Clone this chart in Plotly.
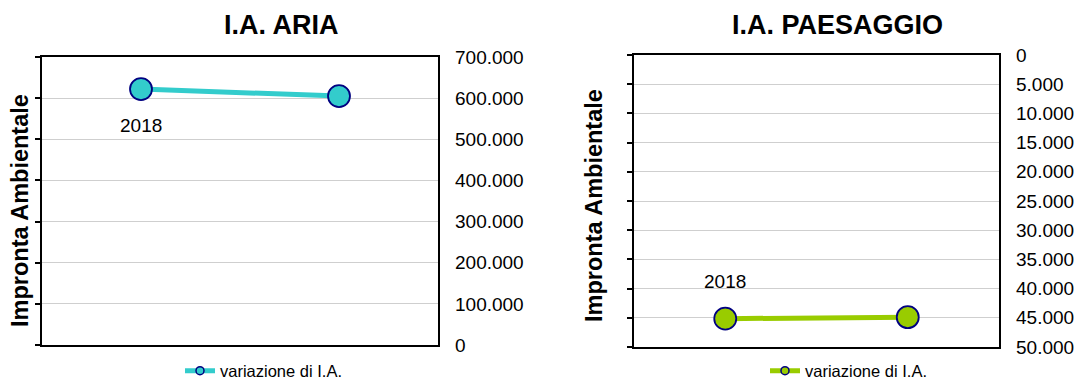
import plotly.graph_objects as go

# Data
categories = ["2018", "2019"]
point_labels = ["2018", ""]
aria_values = [622000, 605000]
paesaggio_values = [45150, 44900]
aria_tickvals = [0, 100000, 200000, 300000, 400000, 500000, 600000, 700000]
paesaggio_tickvals = [0, 5000, 10000, 15000, 20000, 25000, 30000, 35000, 40000, 45000, 50000]
series_name = "variazione di I.A."
y_title = "Impronta Ambientale"

W, H = 1082, 385
FONT = "Liberation Sans, Arial, sans-serif"
TEAL = "#33CCCC"
GREEN = "#99CC00"
NAVY = "#000080"
GRID = "#cfcfcf"


def fx(p):
    return p / W


def fy(p):
    return 1 - p / H


panels = [
    dict(title="I.A. ARIA", values=aria_values, color=TEAL, tickvals=aria_tickvals,
         rng=[0, 700000], box=(42, 438, 57, 345), xa="x", ya="y", ya_lab="y3",
         legend="legend", title_x=281, ytitle=(20, 211), label_shift=-36, legend_x=180),
    dict(title="I.A. PAESAGGIO", values=paesaggio_values, color=GREEN, tickvals=paesaggio_tickvals,
         rng=[50000, 0], box=(634, 999, 55, 347), xa="x2", ya="y2", ya_lab="y4",
         legend="legend2", title_x=837, ytitle=(594, 206), label_shift=37, legend_x=765),
]

fig = go.Figure()
annotations = []
layout = {}

for p in panels:
    x0, x1, y0, y1 = p["box"]
    xname = "xaxis" + p["xa"][1:]
    yname = "yaxis" + p["ya"][1:]
    ylabname = "yaxis" + p["ya_lab"][1:]

    # line with markers
    fig.add_trace(go.Scatter(
        x=categories, y=p["values"], mode="lines+markers",
        line=dict(color=p["color"], width=5),
        marker=dict(size=22, color=p["color"], line=dict(color=NAVY, width=1.8)),
        xaxis=p["xa"], yaxis=p["ya"], showlegend=False, hoverinfo="skip",
    ))
    # legend entry with a small marker (sits on the labelled right-hand axis)
    fig.add_trace(go.Scatter(
        x=[None], y=[None], mode="lines+markers", name=series_name,
        line=dict(color=p["color"], width=5),
        marker=dict(size=8, color=p["color"], line=dict(color=NAVY, width=1.5)),
        xaxis=p["xa"], yaxis=p["ya_lab"], legend=p["legend"],
    ))

    layout[xname] = dict(
        domain=[fx(x0), fx(x1)], anchor=p["ya"], type="category",
        range=[-0.5, len(categories) - 0.5], showticklabels=False, ticks="",
        showgrid=False, zeroline=False, showline=True, linecolor="black",
        linewidth=2, mirror=True,
    )
    layout[yname] = dict(
        domain=[fy(y1), fy(y0)], anchor=p["xa"], range=p["rng"],
        tickvals=p["tickvals"], showticklabels=False, ticks="outside",
        ticklen=5, tickwidth=1.5, tickcolor="black",
        showgrid=True, gridcolor=GRID, gridwidth=1.2, zeroline=False,
        showline=True, linecolor="black", linewidth=2, mirror=True,
    )
    layout[ylabname] = dict(
        overlaying=p["ya"], anchor=p["xa"], side="right", range=p["rng"],
        tickvals=p["tickvals"], tickformat=",d", ticks="", showgrid=False,
        zeroline=False, showline=False, ticklabelstandoff=16,
        tickfont=dict(family=FONT, size=19, color="black"),
    )
    layout[p["legend"]] = dict(
        x=fx(p["legend_x"]), xanchor="left", y=fy(371), yanchor="middle",
        orientation="h", font=dict(family=FONT, size=16.5, color="black"),
        bgcolor="rgba(0,0,0,0)", borderwidth=0,
    )

    # chart title
    annotations.append(dict(
        text="<b>%s</b>" % p["title"], xref="paper", yref="paper",
        x=fx(p["title_x"]), y=fy(25), xanchor="center", yanchor="middle",
        showarrow=False, font=dict(family=FONT, size=27, color="black"),
    ))
    # vertical axis title
    annotations.append(dict(
        text="<b>%s</b>" % y_title, xref="paper", yref="paper",
        x=fx(p["ytitle"][0]), y=fy(p["ytitle"][1]), xanchor="center",
        yanchor="middle", textangle=-90, showarrow=False,
        font=dict(family=FONT, size=23.5, color="black"),
    ))
    # point labels (category axis positions are given by index)
    for i, (val, lab) in enumerate(zip(p["values"], point_labels)):
        if lab:
            annotations.append(dict(
                text=lab, xref=p["xa"], yref=p["ya"], x=i, y=val,
                yshift=p["label_shift"], showarrow=False,
                font=dict(family=FONT, size=19, color="black"),
            ))

fig.update_layout(
    width=W, height=H,
    margin=dict(l=0, r=0, t=0, b=0, autoexpand=False),
    paper_bgcolor="white", plot_bgcolor="white",
    separators=",.", annotations=annotations,
    font=dict(family=FONT, color="black"),
    **layout,
)

fig.write_html("out.html", config={"displayModeBar": False})
